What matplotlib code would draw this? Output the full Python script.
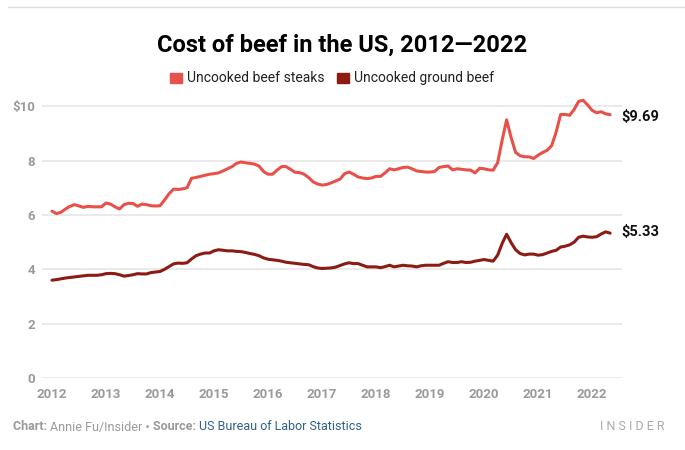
import numpy as np
import matplotlib
matplotlib.use("Agg")
import matplotlib.pyplot as plt

# monthly prices, Jan 2012 - May 2022 (dollars per pound)
steaks = [
    6.14, 6.05, 6.10, 6.22, 6.32, 6.38, 6.33, 6.28, 6.32, 6.30, 6.30, 6.30,
    6.44, 6.40, 6.30, 6.22, 6.38, 6.43, 6.42, 6.32, 6.40, 6.38, 6.34, 6.33,
    6.34, 6.55, 6.78, 6.95, 6.94, 6.96, 7.00, 7.35, 7.38, 7.42, 7.46, 7.50,
    7.52, 7.55, 7.62, 7.70, 7.78, 7.90, 7.95, 7.92, 7.90, 7.87, 7.80, 7.60,
    7.50, 7.50, 7.65, 7.78, 7.78, 7.68, 7.57, 7.56, 7.50, 7.38, 7.22, 7.14,
    7.10, 7.12, 7.18, 7.25, 7.32, 7.52, 7.58, 7.50, 7.40, 7.36, 7.34, 7.36,
    7.42, 7.42, 7.55, 7.70, 7.66, 7.70, 7.75, 7.76, 7.70, 7.62, 7.60, 7.58,
    7.58, 7.60, 7.75, 7.78, 7.80, 7.66, 7.70, 7.68, 7.66, 7.65, 7.55, 7.72,
    7.70, 7.66, 7.65, 7.92, 8.75, 9.50, 8.85, 8.30, 8.18, 8.14, 8.14, 8.08,
    8.20, 8.30, 8.38, 8.55, 9.05, 9.70, 9.70, 9.67, 9.88, 10.18, 10.22, 10.05,
    9.85, 9.76, 9.80, 9.72, 9.69,
]
ground = [
    3.60, 3.62, 3.65, 3.68, 3.70, 3.72, 3.74, 3.76, 3.78, 3.78, 3.78, 3.80,
    3.84, 3.85, 3.84, 3.80, 3.75, 3.77, 3.80, 3.84, 3.83, 3.83, 3.88, 3.90,
    3.92, 4.00, 4.10, 4.20, 4.23, 4.22, 4.24, 4.38, 4.50, 4.56, 4.60, 4.60,
    4.68, 4.72, 4.70, 4.68, 4.68, 4.66, 4.65, 4.62, 4.58, 4.55, 4.50, 4.42,
    4.37, 4.35, 4.33, 4.30, 4.26, 4.24, 4.22, 4.20, 4.18, 4.17, 4.10, 4.05,
    4.03, 4.04, 4.05, 4.08, 4.14, 4.20, 4.24, 4.21, 4.21, 4.15, 4.09, 4.09,
    4.09, 4.06, 4.10, 4.15, 4.09, 4.12, 4.15, 4.13, 4.12, 4.09, 4.13, 4.15,
    4.15, 4.15, 4.15, 4.22, 4.28, 4.25, 4.25, 4.28, 4.25, 4.26, 4.30, 4.33,
    4.36, 4.33, 4.30, 4.52, 4.95, 5.29, 4.98, 4.72, 4.58, 4.53, 4.56, 4.56,
    4.52, 4.54, 4.60, 4.66, 4.70, 4.82, 4.85, 4.90, 5.00, 5.18, 5.22, 5.19,
    5.18, 5.20, 5.30, 5.38, 5.33,
]
years = list(range(2012, 2023))
yticks = [0, 2, 4, 6, 8, 10]
ytick_labels = ["0", "2", "4", "6", "8", "$10"]

STEAK = "#e8504a"
GROUND = "#8c1b13"
GRAY = "#9a9a9a"
FONT = ["Roboto", "DejaVu Sans"]

t = 2012 + np.arange(len(steaks)) / 12

fig = plt.figure(figsize=(6.85, 4.5), dpi=100)
ax = fig.add_axes([0.0613, 0.16, 0.847, 0.634])

ax.plot(t, steaks, color=STEAK, lw=2.2, solid_capstyle="round")
ax.plot(t, ground, color=GROUND, lw=2.2, solid_capstyle="round")

ax.set_xlim(2011.815, 2022.556)
ax.set_ylim(0, 10.5)
ax.set_yticks(yticks)
ax.set_yticklabels(ytick_labels)
ax.set_xticks(years)
ax.set_xticklabels([str(y) for y in years])
ax.grid(axis="y", color="#e6e6e6", lw=1.2)
ax.set_axisbelow(True)
for s in ax.spines.values():
    s.set_visible(False)
ax.tick_params(length=0, colors=GRAY, labelsize=9.5)
ax.tick_params(axis="y", pad=5)
ax.tick_params(axis="x", pad=7)
for lab in ax.get_xticklabels() + ax.get_yticklabels():
    lab.set_family(FONT)
    lab.set_fontweight("bold")

# end-of-series labels
ax.annotate(f"${steaks[-1]:.2f}", (t[-1], steaks[-1]), xytext=(8, -2),
            textcoords="offset points", va="center", ha="left",
            fontsize=10.5, fontweight="bold", family=FONT, color="#111111")
ax.annotate(f"${ground[-1]:.2f}", (t[-1], ground[-1]), xytext=(8, 1),
            textcoords="offset points", va="center", ha="left",
            fontsize=10.5, fontweight="bold", family=FONT, color="#111111")

# top rule
fig.add_artist(plt.Line2D([0.012, 1.0], [0.985, 0.985], color="#dddddd", lw=1))

fig.text(0.5, 0.9, "Cost of beef in the US, 2012\u20142022", ha="center",
         va="center", fontsize=17, fontweight="bold", family=FONT)

# legend
fig.patches.append(plt.Rectangle((170 / 685, 1 - 83 / 450), 12 / 685, 10 / 450,
                                 transform=fig.transFigure, color=STEAK))
fig.text(187 / 685, 1 - 78 / 450, "Uncooked beef steaks", va="center",
         fontsize=10, family=FONT, color="#222222")
fig.patches.append(plt.Rectangle((337 / 685, 1 - 83 / 450), 12 / 685, 10 / 450,
                                 transform=fig.transFigure, color=GROUND))
fig.text(354 / 685, 1 - 78 / 450, "Uncooked ground beef", va="center",
         fontsize=10, family=FONT, color="#222222")

# footer, pieces laid out left to right
fig.canvas.draw()
renderer = fig.canvas.get_renderer()
parts = [
    ("Chart: ", "bold", GRAY),
    ("Annie Fu/Insider \u2022 ", "normal", GRAY),
    ("Source: ", "bold", GRAY),
    ("US Bureau of Labor Statistics", "normal", "#2f5f8a"),
]
x = 13 / 685
for txt, weight, col in parts:
    tx = fig.text(x, 1 - 427 / 450, txt, va="center", fontsize=9,
                  fontweight=weight, family=FONT, color=col)
    bb = tx.get_window_extent(renderer)
    x += bb.width / fig.bbox.width

fig.text(665 / 685, 1 - 427 / 450, "I N S I D E R", ha="right", va="center",
         fontsize=9, family=FONT, color="#aaaaaa")

fig.savefig("out.png", dpi=100)
